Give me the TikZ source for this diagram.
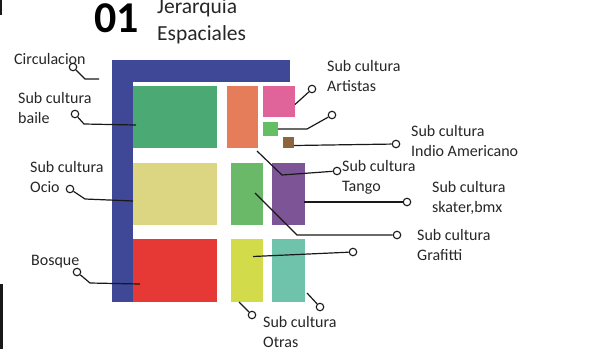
\documentclass[tikz,border=0pt]{standalone}
\usepackage{fontspec}
\setmainfont{Carlito}
\usetikzlibrary{positioning}
\definecolor{circcol}{RGB}{62,72,150}
\definecolor{bailecol}{RGB}{75,170,115}
\definecolor{naranjacol}{RGB}{229,125,90}
\definecolor{artistacol}{RGB}{224,100,154}
\definecolor{verdecol}{RGB}{100,190,100}
\definecolor{indiocol}{RGB}{140,100,62}
\definecolor{ociocol}{RGB}{220,214,130}
\definecolor{tangocol}{RGB}{105,185,105}
\definecolor{skatercol}{RGB}{125,85,150}
\definecolor{bosquecol}{RGB}{230,56,52}
\definecolor{otrascol}{RGB}{210,220,75}
\definecolor{tealcol}{RGB}{110,195,170}
\definecolor{linecol}{RGB}{25,25,25}

\begin{document}
\begin{tikzpicture}[x=1pt,y=-1pt,
  zone/.style={rectangle,inner sep=0pt,outer sep=0pt},
  pin/.style={circle,draw=linecol,line width=1.1pt,fill=white,inner sep=0pt,minimum size=7.5pt},
  wire/.style={draw=linecol,line width=1.2pt},
  lab/.style={anchor=north west,inner sep=0pt,align=left,text=black!85,font=\fontsize{16}{20}\selectfont}]
  \useasboundingbox (0,0) rectangle (613,349);
  % edges of the page
  \fill[black!90] (0,0) rectangle (2,15);
  \fill[black!90] (0,284) rectangle (3,349);
  % title
  \node[anchor=base west,inner sep=0pt,font=\fontsize{44}{44}\bfseries\selectfont] (num) at (94,32) {01};
  \node[anchor=base west,inner sep=0pt,align=left,text=black!85,font=\fontsize{21.5}{27}\selectfont] (titulo) at (157,40) {Jerarquia\\Espaciales};
  % circulation
  \node[zone,fill=circcol,minimum width=21pt,minimum height=242pt] (circV) at (122.5,181) {};
  \node[zone,fill=circcol,minimum width=178pt,minimum height=22pt] (circH) at (201,71) {};
  % zones, row 1
  \node[zone,fill=bailecol,minimum width=84pt,minimum height=62pt] (baile) at (175,117) {};
  \node[zone,fill=naranjacol,minimum width=31pt,minimum height=62pt] (naranja) at (242.5,117) {};
  \node[zone,fill=artistacol,minimum width=32pt,minimum height=31pt] (artistas) at (279,101.5) {};
  \node[zone,fill=verdecol,minimum width=15pt,minimum height=14pt] (verde) at (270.5,129) {};
  \node[zone,fill=indiocol,minimum width=11pt,minimum height=11pt] (indio) at (288.5,142.5) {};
  % row 2
  \node[zone,fill=ociocol,minimum width=84pt,minimum height=62pt] (ocio) at (175,194) {};
  \node[zone,fill=tangocol,minimum width=32pt,minimum height=62pt] (tango) at (247,194) {};
  \node[zone,fill=skatercol,minimum width=33pt,minimum height=62pt] (skater) at (288.5,194) {};
  % row 3
  \node[zone,fill=bosquecol,minimum width=84pt,minimum height=63pt] (bosque) at (175,270.5) {};
  \node[zone,fill=otrascol,minimum width=32pt,minimum height=63pt] (otras) at (247,270.5) {};
  \node[zone,fill=tealcol,minimum width=33pt,minimum height=63pt] (teal) at (288.5,270.5) {};
  % labels
  \node[lab] (tCirc) at (14,53) {Circulacion};
  \node[lab] (tBaile) at (18,92) {Sub cultura\\baile};
  \node[lab] (tOcio) at (30,161) {Sub cultura\\Ocio};
  \node[lab] (tBosque) at (31,255) {Bosque};
  \node[lab] (tArtistas) at (327,60) {Sub cultura\\Artistas};
  \node[lab] (tIndio) at (411,125) {Sub cultura\\Indio Americano};
  \node[lab] (tTango) at (342,160) {Sub cultura\\Tango};
  \node[lab] (tSkater) at (432,181) {Sub cultura\\skater,bmx};
  \node[lab] (tGrafitti) at (417,229) {Sub cultura\\Grafitti};
  \node[lab] (tOtras) at (263,316) {Sub cultura\\Otras};
  % pins
  \node[pin] (pCirc) at (73,67) {};
  \node[pin] (pBaile) at (75,114) {};
  \node[pin] (pOcio) at (70,189) {};
  \node[pin] (pBosque) at (77,272) {};
  \node[pin] (pArtistas) at (312,89) {};
  \node[pin] (pVerde) at (332,115) {};
  \node[pin] (pIndio) at (396,144) {};
  \node[pin] (pTango) at (337,171) {};
  \node[pin] (pSkater) at (407,202) {};
  \node[pin] (pGrafitti) at (397,235) {};
  \node[pin] (pOtras) at (353,252) {};
  \node[pin] (pOtrasB) at (252,315) {};
  \node[pin] (pTeal) at (320,307) {};
  % connectors
  \coordinate (cCirc) at (99,79);
  \draw[wire] (cCirc) -- (85,79) -- (pCirc);
  \draw[wire] ([xshift=3pt]baile.west |- 0,125) -- (84,124) -- (pBaile);
  \draw[wire] (ocio.west |- 0,201) -- (85,199) -- (pOcio);
  \draw[wire] ([xshift=7pt]bosque.west |- 0,284) -- (90,283) -- (pBosque);
  \draw[wire] ([yshift=-3pt]artistas.east) -- (pArtistas);
  \draw[wire] (verde.east) -- (307,129) -- (pVerde);
  \draw[wire] ([yshift=-3pt]indio.east) -- (pIndio);
  \draw[wire] ([xshift=-1pt,yshift=-3pt]naranja.south east) -- (282,175) -- (pTango);
  \draw[wire] ([xshift=-1pt,yshift=-8pt]skater.east) -- (pSkater);
  \draw[wire] ([xshift=8pt,yshift=1pt]tango.center) -- (297,235) -- (pGrafitti);
  \draw[wire] ([xshift=6pt,yshift=14pt]otras.center) -- (pOtras);
  \draw[wire] ([xshift=8pt]otras.south west) -- (pOtrasB);
  \draw[wire] ([xshift=2pt,yshift=9pt]teal.south east) -- (pTeal);
\end{tikzpicture}
\end{document}
